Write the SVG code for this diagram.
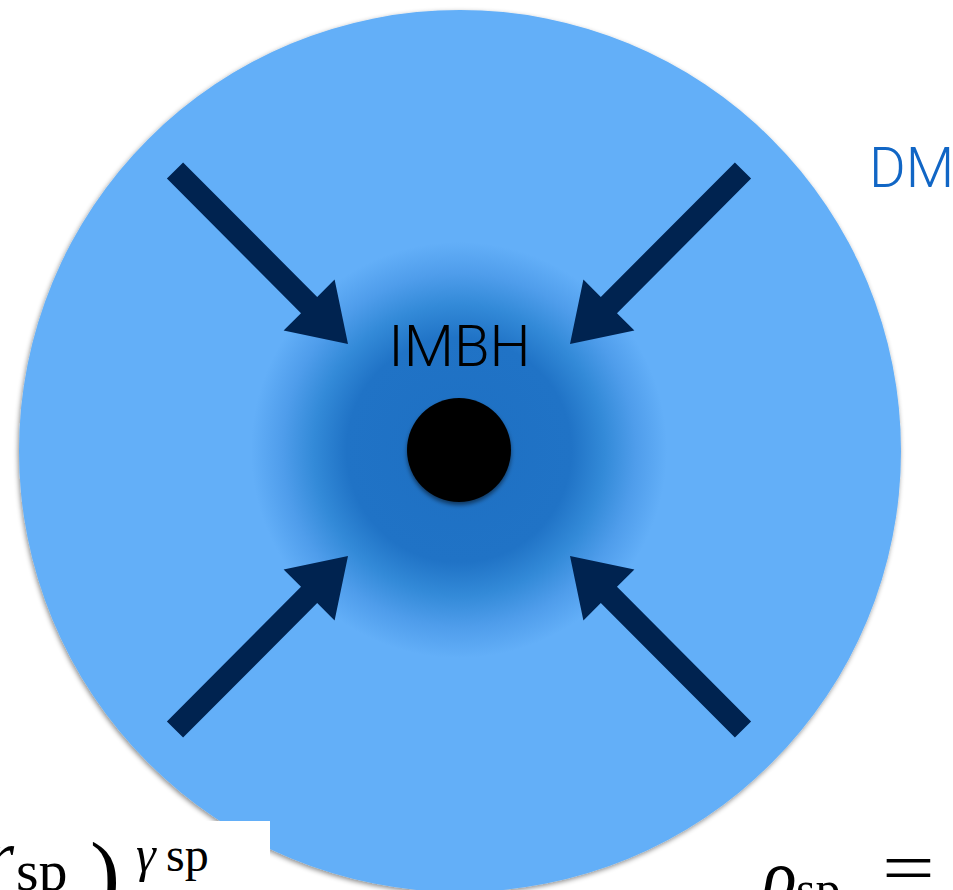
<svg xmlns="http://www.w3.org/2000/svg" width="953" height="890" viewBox="0 0 953 890">
<defs>
<style>
.arrow{fill:#002350}
.lbl{font-family:Roboto,"Liberation Sans",sans-serif;font-weight:300}
.math{font-family:"Liberation Serif","DejaVu Serif",serif;fill:#000}
.it{font-style:italic}
</style>
<radialGradient id="core" cx="459" cy="450" r="208" gradientUnits="userSpaceOnUse">
<stop offset="0" stop-color="#1e70c3"/>
<stop offset="0.54" stop-color="#2073c6"/>
<stop offset="0.7" stop-color="#338ad8"/>
<stop offset="0.85" stop-color="#4f9deb"/>
<stop offset="1" stop-color="#63aff8"/>
</radialGradient>
<filter id="sh" x="-10%" y="-10%" width="120%" height="120%">
<feDropShadow dx="-1" dy="2" stdDeviation="2.5" flood-color="#000" flood-opacity="0.45"/>
</filter>
<filter id="sh2" x="-20%" y="-20%" width="140%" height="150%">
<feDropShadow dx="0" dy="3" stdDeviation="2" flood-color="#000" flood-opacity="0.5"/>
</filter>
</defs>
<rect width="953" height="890" fill="#fff"/>
<g id="dm-halo">
<circle cx="460" cy="451" r="441" fill="#63aff8" filter="url(#sh)"/>
<circle cx="459" cy="450" r="208" fill="url(#core)"/>
</g>
<g id="connectors">
<polygon class="arrow" points="183.1,162.4 317.2,297 334.6,279.6 348,344 283.6,330.6 301,313.2 166.9,178.6"/>
<polygon class="arrow" points="734.9,162.4 600.8,297 583.4,279.6 570,344 634.4,330.6 617,313.2 751.1,178.6"/>
<polygon class="arrow" points="183.1,737.6 317.2,603 334.6,620.4 348,556 283.6,569.4 301,586.8 166.9,721.4"/>
<polygon class="arrow" points="734.9,737.6 600.8,603 583.4,620.4 570,556 634.4,569.4 617,586.8 751.1,721.4"/>
</g>
<g id="imbh">
<circle cx="459" cy="450" r="52" fill="#000" filter="url(#sh2)"/>
<text class="lbl" x="459.5" y="366" font-size="58" text-anchor="middle" fill="#000">IMBH</text>
</g>
<g id="dm-label">
<text class="lbl" x="869" y="187" font-size="56" fill="#1166c5">DM</text>
</g>
<g id="formula-left">
<rect x="0" y="821" width="270" height="69" fill="#fff"/>
<text class="math it" x="-14" y="880" font-size="72">r</text>
<text class="math" x="16" y="890" font-size="58">sp</text>
<text class="math" x="90" y="905" font-size="90">)</text>
<text class="math it" x="136" y="871" font-size="50">γ</text>
<text class="math" x="166" y="871" font-size="48">sp</text>
</g>
<g id="formula-right">
<text class="math it" x="762" y="900" font-size="72">ρ</text>
<text class="math" x="796" y="906" font-size="50">sp</text>
<text class="math" x="0" y="0" font-size="72" transform="translate(882,892) scale(1.3,1)">=</text>
</g>
</svg>
